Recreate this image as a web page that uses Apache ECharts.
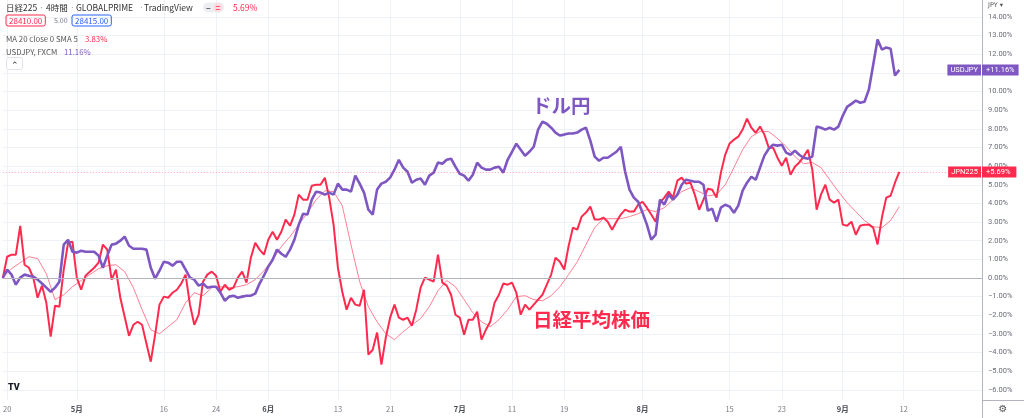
<!DOCTYPE html>
<html>
<head>
<meta charset="utf-8">
<title>日経225 vs USDJPY</title>
<script src="https://cdn.jsdelivr.net/npm/echarts@6.0.0/dist/echarts.min.js"></script>
<style>
  html,body{margin:0;padding:0;background:#fff;}
  #chart{width:1024px;height:418px;}
</style>
</head>
<body>
<div id="chart"></div>
<script>
// 4時間足を半日ごとに読み取った値 (%), 先頭は 4/19 午後
const nikkei = [
  0.00, 1.14, 1.25, 1.25, 2.80, 0.71, 0.55, 0.02, -1.06, -0.41,
  -1.33, -3.15, -1.49, -1.54, 0.45, 1.89, 1.95, 0.02, -0.63, 0.12,
  0.34, 0.55, 0.82, 1.79, 1.52, -0.09, 0.45, -1.06, -2.08, -3.10,
  -2.51, -2.35, -2.51, -3.52, -4.49, -3.04, -1.43, -1.00, -1.06, -0.79,
  -0.63, -0.30, 0.18, -1.43, -2.51, -1.97, -0.20, 0.18, 0.34, 0.12,
  -0.74, -0.36, -0.63, -0.52, 0.02, 0.34, -0.25, 1.09, 1.89, 1.52,
  1.25, 2.05, 2.48, 2.05, 2.48, 3.13, 2.80, 3.40, 4.47, 4.20,
  4.20, 4.95, 5.00, 5.00, 5.38, 4.31, 2.86, 0.55, -0.74, -1.70,
  -1.06, -1.43, -1.49, -0.63, -4.11, -3.85, -2.93, -4.65, -3.20, -2.13,
  -1.43, -2.13, -2.24, -2.13, -2.56, -1.70, -0.52, 0.02, -0.09, -0.20,
  1.25, -0.25, -0.41, -0.90, -1.97, -2.13, -3.04, -2.24, -2.24, -1.81,
  -3.31, -2.78, -2.35, -1.33, -0.90, -0.30, -0.36, -0.25, -0.79, -1.97,
  -1.43, -1.70, -1.43, -1.16, -0.90, -0.36, 0.18, 1.09, 0.87, 0.45,
  1.70, 2.70, 2.59, 3.29, 3.51, 3.83, 3.13, 3.13, 3.24, 3.02,
  2.59, 3.02, 3.40, 3.67, 3.56, 3.56, 3.93, 4.09, 3.77, 3.40,
  3.02, 4.04, 4.31, 4.63, 4.31, 5.22, 5.38, 5.06, 5.11, 4.47,
  3.66, 4.20, 4.79, 4.73, 4.31, 5.65, 6.62, 7.21, 7.42, 7.58,
  7.96, 8.55, 8.06, 7.79, 8.12, 7.69, 6.99, 6.99, 6.45, 6.02,
  6.45, 5.54, 5.97, 6.19, 6.51, 6.88, 5.81, 3.66, 4.47, 5.00,
  4.20, 4.04, 4.20, 2.86, 2.80, 3.02, 2.32, 2.80, 2.86, 2.86,
  2.70, 1.79, 3.24, 4.31, 4.41, 5.11, 5.69
];

const usdjpy = [
  0.00, 0.45, 0.18, -0.36, 0.02, 0.18, 0.12, 0.07, -0.09, -0.30,
  -0.52, -0.74, -0.52, -0.20, 1.79, 2.05, 1.41, 1.36, 1.46, 1.41,
  1.41, 1.41, 1.20, 0.55, 1.20, 1.79, 1.84, 2.00, 2.22, 1.73,
  1.57, 1.57, 1.57, 1.52, 0.55, -0.04, 0.39, 0.87, 0.82, 0.66,
  0.87, 0.87, 0.45, 0.02, -0.09, -0.41, -0.30, -0.52, -0.47, -0.47,
  -0.79, -1.22, -1.00, -0.95, -1.06, -1.00, -0.95, -0.95, -0.84, -0.30,
  0.12, 0.61, 0.98, 1.52, 1.30, 1.14, 1.52, 2.05, 2.86, 3.45,
  3.40, 4.20, 4.63, 4.58, 4.47, 4.58, 4.47, 5.06, 4.74, 4.74,
  4.63, 5.49, 5.06, 4.58, 3.66, 3.40, 4.74, 5.06, 5.16, 5.38,
  5.81, 6.34, 5.92, 5.70, 5.11, 5.27, 5.33, 5.00, 5.49, 5.65,
  6.19, 6.13, 6.34, 6.40, 5.97, 5.59, 5.49, 5.22, 5.54, 6.19,
  5.92, 5.81, 5.81, 5.92, 5.97, 5.65, 6.34, 6.77, 7.20, 6.88,
  6.56, 6.77, 7.04, 7.96, 8.38, 8.27, 8.06, 7.80, 7.64, 7.69,
  7.75, 7.75, 7.80, 7.96, 8.06, 7.37, 6.51, 6.29, 6.45, 6.45,
  6.61, 6.77, 7.04, 5.70, 4.74, 4.31, 4.09, 3.50, 2.86, 2.05,
  2.32, 4.20, 3.94, 4.47, 4.20, 4.47, 5.00, 5.27, 5.22, 5.16,
  5.16, 5.00, 3.61, 3.72, 3.02, 3.77, 3.93, 3.83, 3.50, 3.88,
  4.68, 5.11, 5.43, 5.27, 5.92, 6.56, 6.93, 7.15, 7.10, 7.15,
  6.72, 6.61, 6.83, 6.61, 6.45, 6.40, 6.51, 8.12, 8.06, 7.96,
  8.06, 7.96, 8.12, 8.70, 9.18, 9.34, 9.51, 9.40, 9.45, 10.10,
  11.44, 12.79, 12.25, 12.36, 12.30, 10.86, 11.16
];

// MA 20 close 0 SMA 5 : 1日ごとに読み取り
const maDaily = [
  0.02, 0.50, 0.82, 1.14, 1.04, 0.23, -1.16, -0.90, -0.47, -0.14,
  0.18, 0.50, 0.66, 0.71, 0.34, -0.52, -1.70, -2.78, -2.99, -2.61,
  -2.24, -1.33, -0.79, -0.95, -0.52, -0.47, -0.52, -0.47, -0.36, -0.09,
  0.39, 0.98, 1.68, 2.22, 2.86, 3.50, 4.20, 4.68, 4.63, 3.88,
  1.79, -0.20, -1.54, -2.35, -2.99, -3.31, -2.88, -2.51, -2.18, -1.54,
  -0.68, -0.14, -0.47, -1.16, -1.86, -2.35, -2.61, -2.24, -1.70, -1.00,
  -0.95, -1.16, -1.22, -0.95, -0.47, 0.18, 0.87, 1.79, 2.70, 3.18,
  3.18, 3.18, 3.29, 3.45, 3.67, 3.56, 3.77, 4.20, 4.63, 4.84,
  4.63, 4.41, 4.47, 5.00, 5.92, 6.88, 7.58, 7.85, 7.85, 7.48,
  7.05, 6.51, 6.13, 6.19, 5.92, 5.27, 4.63, 4.04, 3.56, 3.08,
  2.75, 2.70, 3.08, 3.83
];

const tickDates = ['2022-04-20', '2022-05-02', '2022-05-16', '2022-05-24', '2022-06-01',
  '2022-06-13', '2022-06-21', '2022-07-01', '2022-07-11', '2022-07-19', '2022-08-01',
  '2022-08-15', '2022-08-23', '2022-09-01', '2022-09-12'];
const tickTexts = ['20', '5月', '16', '24', '6月', '13', '21', '7月', '11', '19', '8月',
  '15', '23', '9月', '12'];
const yTicks = [-6, -5, -4, -3, -2, -1, 0, 1, 2, 3, 4, 5, 6, 7, 8, 9, 10, 11, 12, 13, 14];

const red = '#ff2a4d';
const purple = '#7e57c2';

// 平日だけの半日スロット (午前/午後)
const slots = ['2022-04-19 PM'];
let d = new Date(Date.UTC(2022, 3, 20));
while (slots.length < 226) {
  const wd = d.getUTCDay();
  if (wd !== 0 && wd !== 6) {
    const s = d.toISOString().slice(0, 10);
    slots.push(s + ' AM');
    if (slots.length < 226) slots.push(s + ' PM');
  }
  d = new Date(d.getTime() + 86400000);
}

function tickText(v) {
  if (!v.endsWith('AM')) return null;
  const k = tickDates.indexOf(v.slice(0, 10));
  return k < 0 ? null : tickTexts[k];
}

const chart = echarts.init(document.getElementById('chart'));
chart.setOption({
  animation: false,
  backgroundColor: '#fff',
  grid: { left: 0, right: 42, top: 0, bottom: 18 },
  xAxis: {
    type: 'category',
    data: slots,
    boundaryGap: false,
    axisLine: { lineStyle: { color: '#b2b5be' } },
    axisTick: { show: false },
    axisLabel: {
      interval: (i, v) => tickText(v) !== null,
      formatter: v => {
        const t = tickText(v) || '';
        return t.indexOf('月') >= 0 ? '{b|' + t + '}' : t;
      },
      color: '#787b86',
      fontSize: 7.5,
      fontFamily: 'Noto Sans CJK JP',
      margin: 5,
      rich: { b: { fontWeight: 'bold', color: '#4a4d57', fontSize: 7.5, fontFamily: 'Noto Sans CJK JP' } }
    },
    splitLine: {
      show: true,
      interval: (i, v) => tickText(v) !== null,
      lineStyle: { color: '#eef2f7' }
    }
  },
  yAxis: {
    type: 'value',
    position: 'right',
    min: -6.545,
    max: 14.91,
    axisLine: { show: true, lineStyle: { color: '#b2b5be' } },
    axisTick: { show: false, customValues: yTicks },
    axisLabel: {
      customValues: yTicks,
      formatter: v => (v < 0 ? '\u2212' : '') + Math.abs(v).toFixed(2) + '%',
      color: '#6a6d78',
      fontSize: 7.5,
      fontFamily: 'Roboto',
      margin: 6
    },
    splitLine: { lineStyle: { color: '#eef2f7' } }
  },
  series: [
    {
      name: 'MA',
      type: 'line',
      data: maDaily.map((v, k) => [2 * k, v]),
      symbol: 'none',
      lineStyle: { color: 'rgba(255,42,77,0.6)', width: 1 },
      z: 2
    },
    {
      name: 'JPN225',
      type: 'line',
      data: nikkei,
      symbol: 'none',
      lineStyle: { color: red, width: 2 },
      z: 3,
      markLine: {
        silent: true, symbol: 'none', label: { show: false },
        lineStyle: { color: 'rgba(255,42,77,0.45)', type: [1, 2], width: 1 },
        data: [{ yAxis: 5.69 }]
      }
    },
    {
      name: 'USDJPY',
      type: 'line',
      data: usdjpy,
      symbol: 'none',
      lineStyle: { color: purple, width: 2.6 },
      z: 4,
      markLine: {
        silent: true, symbol: 'none', label: { show: false },
        lineStyle: { color: '#b2b5be', type: 'solid', width: 1 },
        data: [{ yAxis: 0 }]
      }
    }
  ]
});

const yUsd = chart.convertToPixel({ yAxisIndex: 0 }, 11.16);
const yJpn = chart.convertToPixel({ yAxisIndex: 0 }, 5.69);
const axisX = 982;
const txt = (text, x, y, fill, size, extra) => ({
  type: 'text', z: 100,
  style: Object.assign({ text, x, y, fill, fontSize: size || 8, fontFamily: 'Noto Sans CJK JP', verticalAlign: 'middle' }, extra || {})
});

chart.setOption({
  graphic: [
    // 凡例
    txt('日経225', 6, 7.5, '#333', 8.5),
    txt('·', 39, 7.5, '#999', 8.5),
    txt('4時間', 46, 7.5, '#333', 8.5),
    txt('·', 70, 7.5, '#999', 8.5),
    txt('GLOBALPRIME', 76, 7.5, '#333', 8.5),
    txt('·', 139, 7.5, '#999', 8.5),
    txt('TradingView', 144, 7.5, '#333', 8.5),
    { type: 'rect', z: 100, shape: { x: 203, y: 2.5, width: 21, height: 10, r: 5 }, style: { fill: '#eceef2' } },
    { type: 'circle', z: 100, shape: { cx: 218, cy: 7.5, r: 4.5 }, style: { fill: '#fcdce2' } },
    txt('−', 206, 7.5, '#555', 8, { fontWeight: 'bold' }),
    txt('=', 215.5, 7.5, red, 8, { fontWeight: 'bold' }),
    txt('5.69%', 233, 7.5, red, 8.5),
    txt('28410.00', 6, 20.5, red, 8, { borderColor: red, borderWidth: 1, borderRadius: 2, padding: [2, 3, 1, 3] }),
    txt('5.00', 54, 20.5, '#787b86', 7),
    txt('28415.00', 72, 20.5, '#2962ff', 8, { borderColor: '#2962ff', borderWidth: 1, borderRadius: 2, padding: [2, 3, 1, 3] }),
    txt('MA 20 close 0 SMA 5', 6, 39, '#555', 7.8),
    txt('3.83%', 85, 39, red, 7.8),
    txt('USDJPY, FXCM', 6, 52.5, '#555', 7.8),
    txt('11.16%', 64, 52.5, purple, 7.8),
    { type: 'rect', z: 100, shape: { x: 6.5, y: 57.5, width: 16, height: 12, r: 2 }, style: { fill: '#fff', stroke: '#e0e3eb' } },
    txt('⌃', 14.5, 65, '#333', 9, { align: 'center' }),
    // 注記
    txt('ドル円', 532, 106, purple, 19.5, { fontWeight: 'bold' }),
    txt('日経平均株価', 533, 320, red, 19.5, { fontWeight: 'bold' }),
    // 右側の価格タグ
    txt('USDJPY', axisX - 1, yUsd, '#fff', 7.5, { align: 'right', backgroundColor: purple, padding: [2, 3, 1, 3], fontFamily: 'Roboto' }),
    txt('+11.16%', axisX, yUsd, '#fff', 7.5, { backgroundColor: purple, padding: [2, 4, 1, 4], fontFamily: 'Roboto' }),
    txt('JPN225', axisX - 1, yJpn, '#fff', 7.5, { align: 'right', backgroundColor: red, padding: [2, 3, 1, 3], fontFamily: 'Roboto' }),
    txt('+5.69%', axisX, yJpn, '#fff', 7.5, { backgroundColor: red, padding: [2, 6, 1, 4], fontFamily: 'Roboto' }),
    // 軸まわり
    txt('JPY ▾', 988, 5, '#555', 6.5, { fontFamily: 'DejaVu Sans' }),
    { type: 'line', z: 100, shape: { x1: axisX + 0.5, y1: 400, x2: axisX + 0.5, y2: 418 }, style: { stroke: '#b2b5be' } },
    { type: 'line', z: 100, shape: { x1: axisX, y1: 400.5, x2: 1024, y2: 400.5 }, style: { stroke: '#b2b5be' } },
    txt('⚙', 1003, 409, '#555', 10, { align: 'center', fontFamily: 'DejaVu Sans' }),
    txt('TV', 8, 388, '#131722', 9, { fontWeight: 900, fontFamily: 'Roboto' })
  ]
});
</script>
</body>
</html>
